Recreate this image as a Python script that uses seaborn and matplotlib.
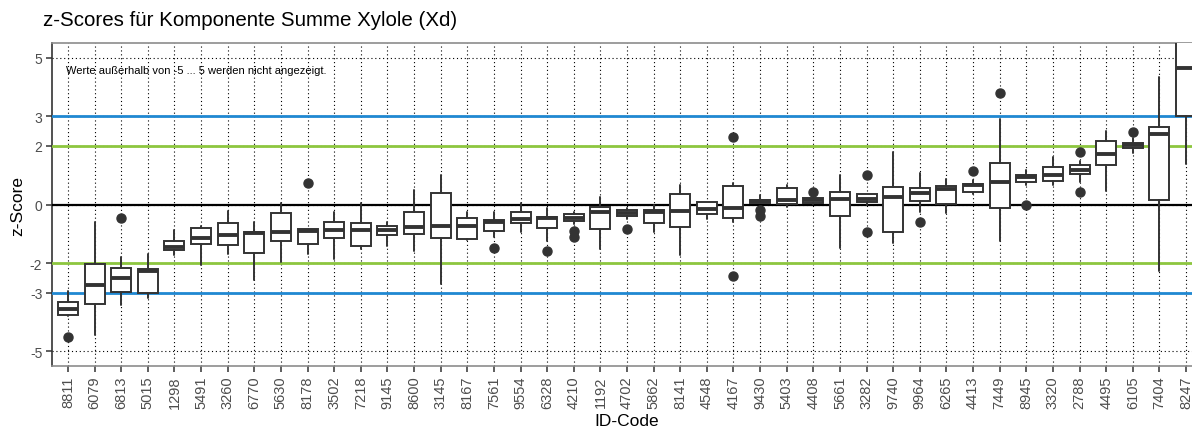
import matplotlib
matplotlib.use("Agg")
import matplotlib.pyplot as plt
import numpy as np
import seaborn as sns

# Laboratory ID codes, ordered by median z-score
ids = ["8811", "6079", "6813", "5015", "1298", "5491", "3260", "6770", "5630", "8178",
       "3502", "7218", "9145", "8600", "3145", "8167", "7561", "9554", "6328", "4210",
       "1192", "4702", "5862", "8141", "4548", "4167", "9430", "5403", "4408", "5661",
       "3282", "9740", "9964", "6265", "4413", "7449", "8945", "3320", "2788", "4495",
       "6105", "7404", "8247"]

# Box statistics per laboratory
whisker_low = [-3.80, -4.44, -3.42, -3.17, -1.72, -2.06, -1.69, -2.56, -1.97, -1.68,
               -1.85, -1.53, -1.40, -1.57, -2.70, -1.20, -1.11, -0.92, -1.23, -0.66,
               -1.53, -0.49, -0.92, -1.72, -0.49, -0.60, 0.05, -0.09, 0.02, -1.49,
               -0.03, -1.32, -0.26, -0.30, 0.36, -1.23, 0.68, 0.65, 0.76, 0.45,
               1.76, -2.27, 1.39]
quart_low = [-3.77, -3.39, -2.99, -3.02, -1.56, -1.34, -1.39, -1.66, -1.24, -1.33,
             -1.15, -1.40, -1.03, -1.00, -1.14, -1.17, -0.89, -0.63, -0.81, -0.56,
             -0.85, -0.40, -0.64, -0.77, -0.32, -0.47, 0.05, 0.03, 0.06, -0.39,
             0.08, -0.92, 0.11, 0.03, 0.43, -0.11, 0.77, 0.80, 1.05, 1.36,
             1.92, 0.14, 3.03]
median = [-3.56, -2.74, -2.49, -2.28, -1.44, -1.15, -1.03, -0.97, -0.92, -0.90,
          -0.86, -0.86, -0.86, -0.77, -0.74, -0.72, -0.60, -0.51, -0.47, -0.45,
          -0.26, -0.30, -0.26, -0.22, -0.15, -0.13, 0.11, 0.14, 0.17, 0.19,
          0.20, 0.26, 0.39, 0.53, 0.65, 0.76, 0.93, 1.01, 1.16, 1.73,
          2.03, 2.41, 4.65]
quart_high = [-3.32, -2.03, -2.15, -2.19, -1.26, -0.81, -0.64, -0.92, -0.30, -0.83,
              -0.59, -0.64, -0.74, -0.24, 0.38, -0.45, -0.52, -0.27, -0.41, -0.34,
              -0.07, -0.20, -0.18, 0.36, 0.07, 0.64, 0.17, 0.55, 0.23, 0.43,
              0.36, 0.61, 0.55, 0.63, 0.69, 1.41, 1.02, 1.27, 1.33, 2.17,
              2.10, 2.63, 6.20]
whisker_high = [-2.95, -0.58, -1.80, -1.69, -0.86, -0.74, -0.23, -0.58, 0.05, -0.83,
                -0.26, 0.05, -0.58, 0.51, 1.01, -0.26, -0.26, 0.05, -0.11, -0.26,
                0.25, -0.11, -0.03, 0.67, 0.10, 0.74, 0.34, 0.65, 0.25, 0.99,
                0.36, 1.78, 1.08, 0.88, 0.82, 2.92, 1.16, 1.61, 1.47, 2.52,
                2.26, 4.34, 7.00]
outliers = [[-4.50], [], [-0.45], [], [], [], [], [], [], [0.74],
            [], [], [], [], [], [], [-1.49], [], [-1.59], [-0.89, -1.10],
            [], [-0.82], [], [], [], [2.30, -2.45], [-0.20, -0.38], [], [0.43], [],
            [0.99, -0.94], [], [-0.60], [], [1.14], [3.81], [0.00], [], [1.78, 0.41], [],
            [2.47], [], []]

y_ticks = [-5, -3, -2, 0, 2, 3, 5]

sns.set_theme(style="white")
plt.rcParams["font.family"] = ["Liberation Sans", "DejaVu Sans"]

W, H = 1192, 427
fig = plt.figure(figsize=(W / 100, H / 100), dpi=100)
ax = fig.add_axes([52 / W, 60 / H, 1150 / W, 323 / H])

positions = np.arange(len(ids))
stats = [
    dict(whislo=lo, q1=a, med=m, q3=b, whishi=hi, fliers=np.array(fl, dtype=float), label=lab)
    for lab, lo, a, m, b, hi, fl in zip(ids, whisker_low, quart_low, median,
                                        quart_high, whisker_high, outliers)
]

edge = "#333333"
ax.bxp(stats, positions=positions, widths=0.75, patch_artist=True, showcaps=False,
       boxprops=dict(facecolor="white", edgecolor=edge, linewidth=1.4),
       medianprops=dict(color=edge, linewidth=2.8, solid_capstyle="butt"),
       whiskerprops=dict(color=edge, linewidth=1.4),
       flierprops=dict(marker="o", markerfacecolor=edge, markeredgecolor=edge,
                       markersize=6.5),
       zorder=4)

# Reference lines for the z-score limits
ax.axhline(0, color="black", linewidth=1.6, zorder=3)
for lim in (2, -2):
    ax.axhline(lim, color="#8dc63f", linewidth=2.0, zorder=3)
for lim in (3, -3):
    ax.axhline(lim, color="#1f88d2", linewidth=2.0, zorder=3)

ax.set_xlim(-0.6, len(ids) - 1 + 0.6)
ax.set_ylim(-5.5, 5.5)
ax.set_xticks(positions)
ax.set_xticklabels(ids, rotation=90, fontsize=10.5, color="#4d4d4d")
ax.set_yticks(y_ticks)
ax.set_yticklabels([str(t) for t in y_ticks], fontsize=10, color="#4d4d4d")
ax.tick_params(axis="both", bottom=True, left=True, length=4, width=1.1,
               color="#333333", pad=3)

ax.grid(True, color="black", linestyle=(0, (1, 2.5)), linewidth=0.8)
ax.set_axisbelow(True)

for side, sp in ax.spines.items():
    sp.set_visible(True)
    sp.set_linewidth(1.2)
    sp.set_color("#333333" if side == "left" else "#8c8c8c")

ax.set_xlabel("ID-Code", fontsize=12.5, color="black", labelpad=3)
ax.set_ylabel("z-Score", fontsize=12.5, color="black", labelpad=3)

ax.text(0.012, 0.915, "Werte außerhalb von -5 ... 5 werden nicht angezeigt.",
        transform=ax.transAxes, fontsize=8, color="black", va="center", ha="left")

fig.text(43 / W, 1 - 20 / H, "z-Scores für Komponente Summe Xylole (Xd)",
         fontsize=14.8, color="black", va="center", ha="left")

fig.savefig("out.png", dpi=100)
